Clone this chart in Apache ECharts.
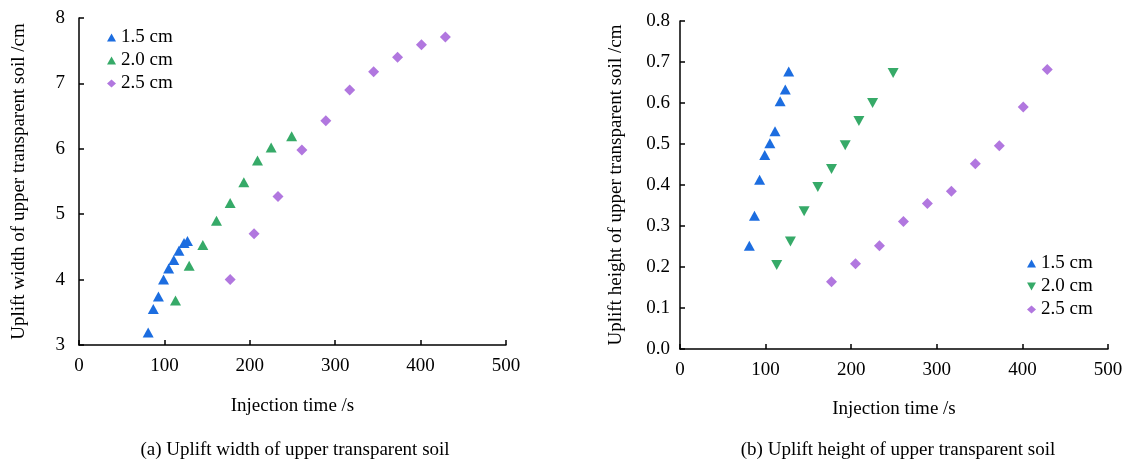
<!DOCTYPE html>
<html>
<head>
<meta charset="utf-8">
<script src="https://cdn.jsdelivr.net/npm/echarts@6/dist/echarts.min.js"></script>
<style>
html, body { margin: 0; padding: 0; background: #fff; }
#main { width: 1126px; height: 463px; }
</style>
</head>
<body>
<div id="main"></div>
<script>
// injection time (s) for each soil thickness
var time15 = [81, 87, 93, 99, 105, 111, 117, 123, 127];
var time20 = [113, 129, 145, 161, 177, 193, 209, 225, 249];
var time25 = [177, 205, 233, 261, 289, 317, 345, 373, 401, 429];

// (a) uplift width /cm
var width15 = [3.19, 3.55, 3.74, 4.00, 4.17, 4.30, 4.44, 4.56, 4.59];
var width20 = [3.68, 4.21, 4.53, 4.90, 5.17, 5.49, 5.82, 6.02, 6.19];
var width25 = [4.00, 4.70, 5.27, 5.98, 6.43, 6.90, 7.18, 7.40, 7.59, 7.71];

// (b) uplift height /cm
var height15 = [0.252, 0.325, 0.413, 0.473, 0.502, 0.531, 0.604, 0.633, 0.677];
var height20 = [0.205, 0.262, 0.336, 0.395, 0.439, 0.497, 0.556, 0.600, 0.673];
var height25 = [0.164, 0.208, 0.252, 0.311, 0.355, 0.385, 0.452, 0.496, 0.590, 0.682];

var names = ['1.5 cm', '2.0 cm', '2.5 cm'];
var captions = ['(a) Uplift width of upper transparent soil', '(b) Uplift height of upper transparent soil'];

var BLUE = '#1c6de0', GREEN = '#36aa68', PURPLE = '#b177df';
var FONT = '"Liberation Serif", "Times New Roman", serif';
var DOWN = 'path://M0,0L10,0L5,9Z';

function pairs(xs, ys) {
    return xs.map(function (x, i) { return [x, ys[i]]; });
}

var myChart = echarts.init(document.getElementById('main'));

function axisCommon() {
    return {
        axisLine: { show: true, lineStyle: { color: '#000', width: 1.5 } },
        axisTick: { show: true, inside: true, length: 5, lineStyle: { color: '#000', width: 1.5 } },
        splitLine: { show: false },
        axisLabel: { color: '#000', fontFamily: FONT, fontSize: 19 },
        nameTextStyle: { color: '#000', fontFamily: FONT, fontSize: 19 },
        nameLocation: 'middle'
    };
}

function xAxis(idx, gap) {
    var ax = Object.assign(axisCommon(), {
        type: 'value', gridIndex: idx, min: 0, max: 500, interval: 100,
        name: 'Injection time /s', nameGap: gap
    });
    ax.axisLabel.margin = 12;
    return ax;
}

var yA = Object.assign(axisCommon(), {
    type: 'value', gridIndex: 0, min: 3, max: 8, interval: 1,
    name: 'Uplift width of upper transparent soil /cm', nameGap: 50
});
yA.axisLabel.margin = 14;

var yB = Object.assign(axisCommon(), {
    type: 'value', gridIndex: 1, min: 0, max: 0.8, interval: 0.1,
    name: 'Uplift height of upper transparent soil /cm', nameGap: 54
});
yB.axisLabel.margin = 10;
yB.axisLabel.formatter = function (v) { return v.toFixed(1); };

function scatter(name, data, idx, symbol, color, size) {
    return {
        name: name, type: 'scatter', xAxisIndex: idx, yAxisIndex: idx,
        data: data, symbol: symbol, symbolSize: size,
        itemStyle: { color: color, opacity: 1 }
    };
}

var legendText = { color: '#000', fontFamily: FONT, fontSize: 19, lineHeight: 19 };

var option = {
    animation: false,
    backgroundColor: '#fff',
    title: [
        { text: captions[0], left: 290, top: 436, textAlign: 'center',
          textStyle: { color: '#000', fontFamily: FONT, fontSize: 19, fontWeight: 'normal' } },
        { text: captions[1], left: 893, top: 436, textAlign: 'center',
          textStyle: { color: '#000', fontFamily: FONT, fontSize: 19, fontWeight: 'normal' } }
    ],
    legend: [
        { orient: 'vertical', left: 102, top: 23, itemWidth: 9, itemHeight: 8, itemGap: 4,
          textStyle: legendText,
          data: [
              { name: names[0], icon: 'triangle', itemStyle: { color: BLUE } },
              { name: names[1], icon: 'triangle', itemStyle: { color: GREEN } },
              { name: names[2], icon: 'diamond', itemStyle: { color: PURPLE } }
          ] },
        { orient: 'vertical', left: 1022, top: 249, itemWidth: 9, itemHeight: 8, itemGap: 4,
          textStyle: legendText,
          data: [
              { name: names[0], icon: 'triangle', itemStyle: { color: BLUE } },
              { name: names[1], icon: DOWN, itemStyle: { color: GREEN } },
              { name: names[2], icon: 'diamond', itemStyle: { color: PURPLE } }
          ] }
    ],
    grid: [
        { left: 79, top: 18, width: 427, height: 327 },
        { left: 680, top: 21, width: 428, height: 328 }
    ],
    xAxis: [xAxis(0, 52), xAxis(1, 51)],
    yAxis: [yA, yB],
    series: [
        scatter(names[0], pairs(time15, width15), 0, 'triangle', BLUE, [11, 10]),
        scatter(names[1], pairs(time20, width20), 0, 'triangle', GREEN, [11, 10]),
        scatter(names[2], pairs(time25, width25), 0, 'diamond', PURPLE, [11, 11]),
        scatter(names[0], pairs(time15, height15), 1, 'triangle', BLUE, [11, 10]),
        scatter(names[1], pairs(time20, height20), 1, DOWN, GREEN, [11, 10]),
        scatter(names[2], pairs(time25, height25), 1, 'diamond', PURPLE, [11, 11])
    ]
};

myChart.setOption(option);
</script>
</body>
</html>
